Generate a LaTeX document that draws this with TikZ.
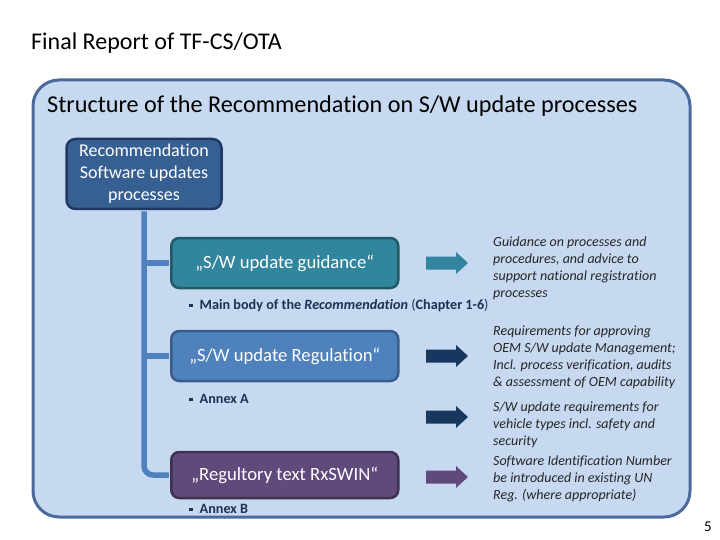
\documentclass[tikz,border=0pt]{standalone}
\usepackage{fontspec}
\setmainfont{Carlito}[Ligatures={NoCommon,NoContextual}]
\definecolor{outerfill}{HTML}{C6D9F0}
\definecolor{outerline}{HTML}{4B6A9B}
\definecolor{topfill}{HTML}{376092}
\definecolor{topline}{HTML}{1F3864}
\definecolor{gdfill}{HTML}{31859C}
\definecolor{gdline}{HTML}{215968}
\definecolor{regfill}{HTML}{4F81BD}
\definecolor{regline}{HTML}{385D8A}
\definecolor{rxfill}{HTML}{604A7B}
\definecolor{rxline}{HTML}{3F3151}
\definecolor{navy}{HTML}{17375E}
\definecolor{conncol}{HTML}{4F81BD}
\definecolor{bultext}{HTML}{1F3050}
\definecolor{ittext}{HTML}{262626}
\tikzset{
  box/.style={rounded corners=8, line width=2.5pt, minimum width=227, minimum height=50,
    text=white, font=\fontsize{18.7}{22}\selectfont, inner sep=0},
  conn/.style={conncol, line width=5.5pt},
  bul/.style={anchor=west, inner sep=0, text=bultext, font=\fontsize{14.2}{16}\selectfont\bfseries},
  itx/.style={anchor=north west, inner sep=0, align=left, text=ittext, font=\fontsize{14}{16.8}\selectfont\itshape},
  barrow/.pic={\fill[pic actions] (0,-6.5) -- (30,-6.5) -- (30,-11) -- (42,0) -- (30,11) -- (30,6.5) -- (0,6.5) -- cycle;}
}
\newcommand{\sqbul}{\raisebox{0.3ex}{\rule{3.5pt}{3.5pt}}\hspace{7pt}}
\begin{document}
\begin{tikzpicture}[x=1pt,y=-1pt]
\useasboundingbox (0,0) rectangle (720,540);
\fill[white] (0,0) rectangle (720,540);
\node[anchor=west, inner sep=0, font=\fontsize{24}{28}\selectfont] (title) at (31,43) {Final Report of TF-CS/OTA};
\draw[fill=outerfill, draw=outerline, line width=3pt, rounded corners=26] (33,80) rectangle (690,517);
\node[anchor=west, inner sep=0, font=\fontsize{24.2}{28}\selectfont] (hdr) at (47,106) {Structure of the Recommendation on S/W update processes};
\node[rounded corners=9, line width=2.5pt, fill=topfill, draw=topline, minimum width=155, minimum height=70,
  text=white, align=center, inner sep=0, font=\fontsize{18}{22}\selectfont] (rec) at (144,174)
  {Recommendation\\Software updates\\processes};
\node[box, fill=gdfill, draw=gdline, anchor=west] (gd) at (170,263) {„S/W update guidance“};
\node[box, fill=regfill, draw=regline, anchor=west] (reg) at (170,356) {„S/W update Regulation“};
\node[box, fill=rxfill, draw=rxline, anchor=west, minimum height=46] (rx) at (170,475) {„Regultory text RxSWIN“};
\draw[conn, rounded corners=9, shorten <=1.25pt, shorten >=1.25pt] (rec.south) |- (rx.west);
\draw[conn, shorten >=1.25pt] (rec.south |- gd.west) -- (gd.west);
\draw[conn, shorten >=1.25pt] (rec.south |- reg.west) -- (reg.west);
\node[bul] (b1) at (189,305) {\sqbul Main body of the \textit{Recommendation} {\mdseries(}Chapter 1-6{\mdseries)}};
\node[bul] (b2) at (189,399) {\sqbul Annex A};
\node[bul] (b3) at (189,509) {\sqbul Annex B};
\pic[fill=gdfill] at (426,263) {barrow};
\pic[fill=navy] at (426,356) {barrow};
\pic[fill=navy] at (426,417) {barrow};
\pic[fill=rxfill] at (426,477) {barrow};
\node[itx] (t1) at (493,237) {Guidance on processes and\\procedures, and advice to\\support national registration\\processes};
\node[itx] (t2) at (493,326) {Requirements for approving\\OEM S/W update Management;\\Incl. process verification, audits\\\& assessment of OEM capability};
\node[itx] (t3) at (493,402) {S/W update requirements for\\vehicle types incl. safety and\\security};
\node[itx] (t4) at (493,456) {Software Identification Number\\be introduced in existing UN\\Reg. (where appropriate)};
\node[inner sep=0, font=\fontsize{15}{18}\selectfont] (pg) at (708,527) {5};
\end{tikzpicture}
\end{document}
